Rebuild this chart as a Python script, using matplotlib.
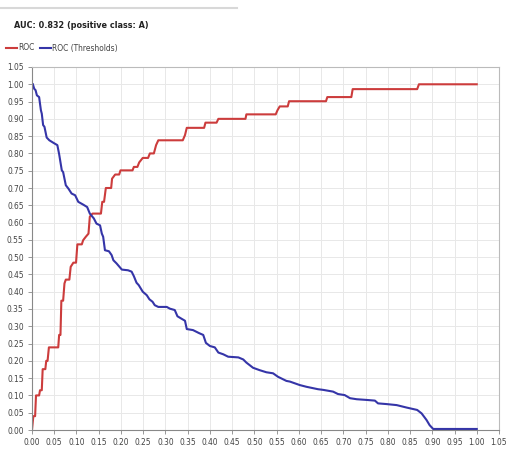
import matplotlib
matplotlib.use("Agg")
import matplotlib.pyplot as plt
import numpy as np

title = "AUC: 0.832 (positive class: A)"
legend_labels = ["ROC", "ROC (Thresholds)"]

roc_fpr = [0.000, 0.003, 0.007, 0.009, 0.016, 0.018, 0.022, 0.024, 0.030, 0.032, 0.035, 0.038,
           0.059, 0.061, 0.064, 0.066, 0.070, 0.073, 0.076, 0.084, 0.087, 0.093, 0.099, 0.102,
           0.112, 0.115, 0.121, 0.127, 0.130, 0.136, 0.155, 0.158, 0.162, 0.166, 0.178, 0.180,
           0.187, 0.196, 0.199, 0.226, 0.229, 0.237, 0.241, 0.249, 0.261, 0.265, 0.274, 0.279,
           0.284, 0.339, 0.344, 0.348, 0.387, 0.390, 0.415, 0.419, 0.480, 0.482, 0.548, 0.552,
           0.557, 0.575, 0.578, 0.661, 0.664, 0.718, 0.721, 0.866, 0.870, 1.000]
roc_tpr = [0.000, 0.040, 0.040, 0.100, 0.100, 0.115, 0.115, 0.176, 0.176, 0.200, 0.200, 0.239,
           0.239, 0.275, 0.275, 0.374, 0.374, 0.424, 0.435, 0.435, 0.472, 0.484, 0.484, 0.537,
           0.537, 0.549, 0.559, 0.568, 0.617, 0.626, 0.626, 0.660, 0.660, 0.700, 0.700, 0.727,
           0.739, 0.739, 0.751, 0.751, 0.761, 0.761, 0.774, 0.787, 0.787, 0.800, 0.800, 0.824,
           0.838, 0.838, 0.853, 0.874, 0.874, 0.889, 0.889, 0.900, 0.900, 0.913, 0.913, 0.925,
           0.936, 0.936, 0.951, 0.951, 0.963, 0.963, 0.986, 0.986, 1.000, 1.000]

thr_fpr = [0.002, 0.005, 0.008, 0.011, 0.016, 0.020, 0.022, 0.025, 0.028, 0.033, 0.039, 0.049,
           0.057, 0.061, 0.067, 0.070, 0.076, 0.082, 0.089, 0.097, 0.104, 0.115, 0.124, 0.130,
           0.139, 0.145, 0.153, 0.157, 0.160, 0.164, 0.173, 0.179, 0.183, 0.190, 0.202, 0.216,
           0.224, 0.229, 0.235, 0.240, 0.249, 0.258, 0.264, 0.271, 0.276, 0.284, 0.303, 0.310,
           0.321, 0.327, 0.336, 0.344, 0.348, 0.362, 0.376, 0.385, 0.391, 0.400, 0.411, 0.419,
           0.430, 0.441, 0.464, 0.475, 0.482, 0.497, 0.512, 0.527, 0.542, 0.553, 0.572, 0.580,
           0.602, 0.617, 0.643, 0.655, 0.677, 0.688, 0.703, 0.715, 0.730, 0.752, 0.771, 0.778,
           0.797, 0.820, 0.842, 0.866, 0.876, 0.887, 0.894, 0.902, 1.000]
thr_val = [1.000, 0.987, 0.983, 0.968, 0.963, 0.925, 0.915, 0.882, 0.877, 0.846, 0.838, 0.830,
           0.824, 0.798, 0.751, 0.746, 0.708, 0.698, 0.684, 0.679, 0.660, 0.652, 0.645, 0.626,
           0.612, 0.597, 0.592, 0.568, 0.559, 0.520, 0.517, 0.506, 0.491, 0.482, 0.464, 0.462,
           0.458, 0.445, 0.426, 0.419, 0.400, 0.390, 0.378, 0.371, 0.361, 0.356, 0.356, 0.351,
           0.347, 0.329, 0.322, 0.316, 0.292, 0.289, 0.280, 0.275, 0.252, 0.243, 0.239, 0.224,
           0.219, 0.212, 0.210, 0.204, 0.195, 0.180, 0.173, 0.167, 0.164, 0.154, 0.142, 0.140,
           0.130, 0.125, 0.118, 0.116, 0.111, 0.104, 0.101, 0.092, 0.089, 0.087, 0.085, 0.077,
           0.075, 0.072, 0.065, 0.058, 0.048, 0.029, 0.014, 0.003, 0.003]

ticks = np.round(np.arange(0, 1.0501, 0.05), 2)
tick_labels = [f"{t:.2f}" for t in ticks]

red = "#cc3c3c"
blue = "#3535a8"
narrow = ["Liberation Sans Narrow", "DejaVu Sans"]

fig = plt.figure(figsize=(5.08, 4.58), dpi=100)
fig.patch.set_facecolor("white")

# top separator line
fig.add_artist(plt.Line2D([0, 237 / 508], [1 - 8 / 458, 1 - 8 / 458], color="#d8d8d8", lw=1.5))

fig.text(14 / 508, 1 - 25 / 458, title, fontsize=6.5, fontweight="bold", family=narrow,
         fontstretch="condensed", color="#222222", va="center", ha="left")

ax = fig.add_axes([32 / 508, 1 - 430 / 458, 467 / 508, 363 / 458])
ax.plot(roc_fpr, roc_tpr, color=red, lw=1.5, solid_joinstyle="round", label=legend_labels[0])
ax.plot(thr_fpr, thr_val, color=blue, lw=1.5, solid_joinstyle="round", label=legend_labels[1])

ax.set_xlim(0, 1.05)
ax.set_ylim(0, 1.05)
ax.set_xticks(ticks)
ax.set_yticks(ticks)
ax.set_xticklabels(tick_labels)
ax.set_yticklabels(tick_labels)
for lab in ax.get_xticklabels() + ax.get_yticklabels():
    lab.set_fontfamily(narrow)
    lab.set_fontstretch("condensed")
    lab.set_fontsize(6)
    lab.set_color("#444444")
ax.tick_params(length=3, width=0.6, color="#888888", pad=3)
ax.grid(True, color="#e8e8e8", lw=0.7)
ax.set_axisbelow(True)
for s in ["left", "bottom"]:
    ax.spines[s].set_color("#888888")
    ax.spines[s].set_linewidth(0.8)
for s in ["right", "top"]:
    ax.spines[s].set_color("#bbbbbb")
    ax.spines[s].set_linewidth(0.8)

leg = fig.legend(loc="center left", bbox_to_anchor=(6 / 508, 1 - 48 / 458), ncol=2, frameon=False,
                 prop={"family": narrow, "size": 6, "stretch": "condensed"}, handlelength=1.3,
                 handletextpad=0.2, columnspacing=0.6, borderaxespad=0, borderpad=0)
for t in leg.get_texts():
    t.set_color("#444444")

fig.savefig("out.png", dpi=100, facecolor="white")
